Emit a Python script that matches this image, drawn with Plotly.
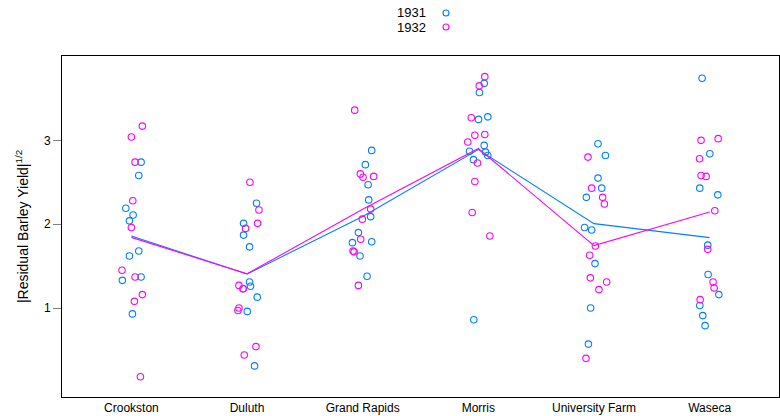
import plotly.graph_objects as go

sites = ["Crookston", "Duluth", "Grand Rapids", "Morris", "University Farm", "Waseca"]
years = ["1931", "1932"]

# |residual|^(1/2) values, 10 varieties per site and year
vals_1931 = [
    [2.74, 2.58, 2.19, 2.11, 2.04, 1.68, 1.62, 1.33, 1.37, 0.93],
    [2.25, 2.01, 1.87, 1.73, 1.31, 1.26, 1.23, 1.13, 0.96, 0.31],
    [2.88, 2.71, 2.47, 2.29, 2.09, 1.90, 1.78, 1.79, 1.62, 1.38],
    [3.68, 3.57, 3.25, 3.28, 2.94, 2.87, 2.86, 2.82, 2.77, 0.86],
    [2.96, 2.82, 2.55, 2.43, 2.32, 1.96, 1.93, 1.53, 1.00, 0.57],
    [3.74, 2.84, 2.43, 2.35, 1.75, 1.40, 1.16, 1.03, 0.91, 0.79],
]
vals_1932 = [
    [3.17, 3.04, 2.74, 2.28, 1.96, 1.45, 1.37, 1.16, 1.08, 0.18],
    [2.50, 2.17, 2.01, 1.95, 1.27, 1.23, 1.00, 0.97, 0.54, 0.44],
    [3.36, 2.60, 2.56, 2.57, 2.18, 2.06, 1.82, 1.68, 1.67, 1.27],
    [3.76, 3.65, 3.27, 3.06, 3.07, 2.98, 2.73, 2.51, 2.14, 1.86],
    [2.80, 2.43, 2.32, 2.24, 1.74, 1.63, 1.36, 1.31, 1.22, 0.40],
    [3.00, 3.02, 2.78, 2.58, 2.57, 2.16, 1.70, 1.31, 1.24, 1.10],
]
# horizontal jitter (category units) as seen in the chart
jit_1931 = [
    [0.084, 0.064, -0.048, 0.015, -0.017, 0.064, -0.017, -0.078, 0.084, 0.009],
    [0.082, -0.030, -0.030, 0.022, 0.022, 0.030, -0.035, 0.088, 0.002, 0.065],
    [0.078, 0.023, 0.047, 0.052, 0.069, -0.037, -0.089, 0.078, -0.023, 0.038],
    [0.051, 0.010, 0.002, 0.082, 0.051, -0.076, 0.062, 0.082, -0.042, -0.039],
    [0.035, 0.099, 0.035, 0.067, -0.066, -0.081, -0.020, 0.009, -0.029, -0.048],
    [-0.065, 0.002, -0.085, 0.071, -0.016, -0.013, 0.080, -0.085, -0.059, -0.039],
]
jit_1932 = [
    [0.095, 0.000, 0.032, 0.012, 0.000, -0.081, 0.032, 0.095, 0.026, 0.078],
    [0.025, 0.103, 0.091, -0.013, -0.070, -0.033, -0.070, -0.079, 0.077, -0.024],
    [-0.069, -0.020, 0.003, 0.095, 0.069, -0.003, -0.017, -0.083, -0.074, -0.037],
    [0.056, 0.008, -0.061, -0.030, 0.056, -0.091, -0.007, -0.030, -0.053, 0.100],
    [-0.052, -0.020, 0.075, 0.090, 0.012, -0.037, -0.031, 0.110, 0.043, -0.069],
    [-0.074, 0.074, -0.087, -0.074, -0.030, 0.045, -0.016, 0.030, 0.039, -0.082],
]
y_ticks = [1, 2, 3]

colors = {"1931": "#0080ff", "1932": "#ff00ff"}
W, H = 780, 416
L, R, T, B = 62, 1, 56, 19

fig = go.Figure()
for yr, vals, jit in [("1931", vals_1931, jit_1931), ("1932", vals_1932, jit_1932)]:
    xs, ys = [], []
    for i, (vv, jj) in enumerate(zip(vals, jit)):
        for v, j in zip(vv, jj):
            xs.append(i + j)
            ys.append(v)
    fig.add_trace(go.Scatter(
        x=xs, y=ys, mode="markers", showlegend=False,
        marker=dict(symbol="circle-open", size=6.5, color=colors[yr],
                    line=dict(width=1.1, color=colors[yr])),
    ))
    means = [sum(vv) / len(vv) for vv in vals]
    fig.add_trace(go.Scatter(
        x=list(range(len(sites))), y=means, mode="lines", showlegend=False,
        line=dict(color=colors[yr], width=1.1),
    ))

# legend (text then symbol, like lattice key)
pw = W - L - R
ph = H - T - B
for k, yr in enumerate(years):
    py = 13 + 14 * k
    yp = (H - B - py) / ph
    fig.add_annotation(
        x=(428 - L) / pw, y=yp, xref="paper", yref="paper",
        text=yr, showarrow=False, xanchor="right", yanchor="middle",
        font=dict(size=13, color="black"),
    )
    fig.add_shape(
        type="circle", xref="paper", yref="paper",
        xsizemode="pixel", ysizemode="pixel",
        xanchor=(446 - L) / pw, yanchor=yp,
        x0=-3, x1=3, y0=-3, y1=3,
        line=dict(color=colors[yr], width=1.1),
    )

fig.update_layout(
    width=W, height=H,
    margin=dict(l=L, r=R, t=T, b=B, pad=0),
    plot_bgcolor="white", paper_bgcolor="white",
    font=dict(family="Liberation Sans, Arial, sans-serif", color="black", size=12),
    xaxis=dict(
        range=[-0.6, len(sites) - 0.4],
        tickvals=list(range(len(sites))), ticktext=sites,
        ticks="", showgrid=False, zeroline=False,
        showline=True, linecolor="black", linewidth=1, mirror=True,
        tickfont=dict(size=12), automargin=False,
    ),
    yaxis=dict(
        range=[-0.061, 4.006],
        tickvals=y_ticks, ticktext=[str(t) for t in y_ticks],
        ticks="outside", ticklen=8, tickcolor="#808080", tickwidth=1,
        showgrid=False, zeroline=False,
        showline=True, linecolor="black", linewidth=1, mirror="ticks",
        tickfont=dict(size=12), automargin=False,
        title=dict(text="|Residual Barley Yield|<sup>1/2</sup>", font=dict(size=14), standoff=12),
    ),
)

fig.write_html("out.html")
